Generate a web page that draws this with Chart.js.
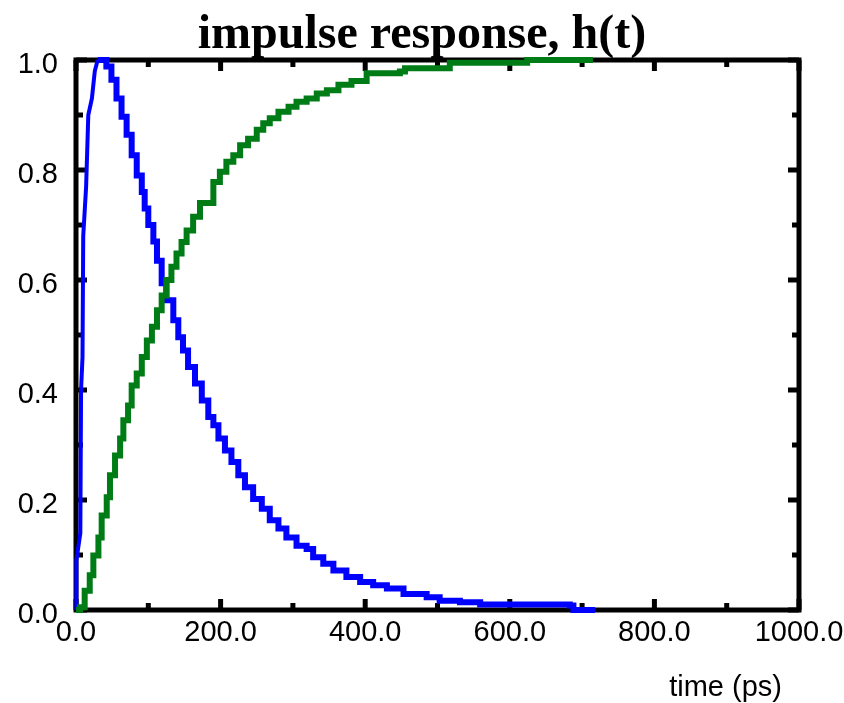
<!DOCTYPE html>
<html>
<head>
<meta charset="utf-8">
<style>
  html, body { margin: 0; padding: 0; background: #fff; }
  #wrap { width: 844px; height: 703px; }
</style>
<script src="https://cdn.jsdelivr.net/npm/chart.js@4.4.0/dist/chart.umd.min.js"></script>
</head>
<body>
<div id="wrap"><canvas id="impulseChart" width="844" height="703"></canvas></div>
<script>
// tick positions
const xTickValues = [0, 200, 400, 600, 800, 1000];
const xMinorValues = [100, 300, 500, 700, 900];
const yTickValues = [0, 0.2, 0.4, 0.6, 0.8, 1.0];
const yMinorValues = [0.1, 0.3, 0.5, 0.7, 0.9];

// h(t), rising edge (ps, normalised)
const riseTime = [0, 0.5, 6, 7, 9, 10, 14, 17, 22, 26, 30];
const riseValue = [0, 0.09, 0.14, 0.40, 0.46, 0.68, 0.77, 0.90, 0.93, 0.98, 1.0];

// h(t), decaying histogram
const decayTime = [30, 35.5, 42, 49, 56, 63, 70, 77, 84, 91, 95, 100, 107, 112, 118.5, 125, 134.6, 141.5, 148, 155,
    164.6, 174, 183, 190, 197, 206, 215, 224.5, 233.7, 245, 257, 268, 280, 291, 305, 319, 328, 342, 356, 374,
    393, 411, 430, 453, 485, 503, 531, 559, 683, 688, 718];
const decayValue = [1.0, 1.0, 0.988, 0.964, 0.93, 0.897, 0.864, 0.827, 0.79, 0.76, 0.73, 0.70, 0.67, 0.635, 0.594, 0.563, 0.527, 0.496, 0.472, 0.442,
    0.412, 0.381, 0.351, 0.336, 0.312, 0.29, 0.269, 0.245, 0.223, 0.202, 0.184, 0.163, 0.148, 0.132, 0.117, 0.111, 0.096, 0.084, 0.072, 0.06,
    0.051, 0.045, 0.039, 0.029, 0.023, 0.017, 0.014, 0.01, 0.008, 0, 0];

// cumulative response
const cumTime = [0, 5.5, 12, 19, 24, 31, 35.5, 42.5, 47, 54, 61, 65.5, 72, 77, 84, 91, 98, 105, 112, 118.5,
    125, 132, 139, 146, 153, 162, 171.5, 190, 199, 208, 217.6, 227, 238, 250, 259, 268, 280, 294, 305, 319,
    333, 347, 363, 381, 402, 448, 455, 517, 624, 715];
const cumValue = [0, 0.005, 0.035, 0.063, 0.099, 0.132, 0.172, 0.205, 0.245, 0.281, 0.312, 0.345, 0.372, 0.408, 0.43, 0.46, 0.49, 0.515, 0.545, 0.572,
    0.6, 0.624, 0.648, 0.669, 0.69, 0.715, 0.74, 0.778, 0.797, 0.815, 0.827, 0.845, 0.857, 0.873, 0.885, 0.894, 0.906, 0.915, 0.924, 0.93,
    0.939, 0.945, 0.955, 0.962, 0.976, 0.979, 0.985, 0.995, 1.0, 1.0];

const BLUE = '#0000ff';
const GREEN = 'rgb(0,124,22)';
const SANS = '"Liberation Sans", Arial, sans-serif';

const toPoints = (ts, vs) => ts.map((t, i) => ({ x: t, y: vs[i] }));

// frame with inward ticks on all four sides (gnuplot look)
const frameTicks = {
    id: 'frameTicks',
    beforeDatasetsDraw(chart) {
        const { ctx, chartArea: a, scales: { x, y } } = chart;
        ctx.save();
        ctx.strokeStyle = '#000';
        ctx.lineWidth = 5;
        ctx.lineCap = 'square';
        ctx.strokeRect(a.left, a.top, a.right - a.left, a.bottom - a.top);
        ctx.lineCap = 'butt';

        const seg = (x1, y1, x2, y2) => {
            ctx.beginPath();
            ctx.moveTo(x1, y1);
            ctx.lineTo(x2, y2);
            ctx.stroke();
        };
        const xMark = (v, len) => {
            const px = x.getPixelForValue(v);
            seg(px, a.bottom, px, a.bottom - len);
            seg(px, a.top, px, a.top + len);
        };
        const yMark = (v, len) => {
            const py = y.getPixelForValue(v);
            seg(a.left, py, a.left + len, py);
            seg(a.right, py, a.right - len, py);
        };
        xTickValues.forEach(v => xMark(v, 11));
        xMinorValues.forEach(v => xMark(v, 7));
        yTickValues.forEach(v => yMark(v, 11));
        yMinorValues.forEach(v => yMark(v, 7));
        ctx.restore();
    },
    afterDraw(chart) {
        const { ctx, chartArea: a } = chart;
        ctx.save();
        ctx.fillStyle = '#000';
        ctx.font = '29px ' + SANS;
        ctx.textAlign = 'right';
        ctx.textBaseline = 'middle';
        ctx.fillText('time (ps)', a.right - 17, 688);
        ctx.restore();
    }
};

const ctx = document.getElementById('impulseChart').getContext('2d');

new Chart(ctx, {
    type: 'line',
    data: {
        datasets: [
            {
                data: toPoints(cumTime, cumValue),
                borderColor: GREEN,
                borderWidth: 6,
                stepped: true,
                pointRadius: 0,
                fill: false,
                clip: false
            },
            {
                data: toPoints(decayTime, decayValue),
                borderColor: BLUE,
                borderWidth: 6,
                stepped: true,
                pointRadius: 0,
                fill: false,
                clip: false
            },
            {
                data: toPoints(riseTime, riseValue),
                borderColor: BLUE,
                borderWidth: 4,
                tension: 0,
                pointRadius: 0,
                fill: false,
                clip: false
            }
        ]
    },
    options: {
        responsive: false,
        animation: false,
        devicePixelRatio: 1,
        layout: {
            padding: { left: 0, right: 0, top: 0, bottom: 53 }
        },
        plugins: {
            legend: { display: false },
            tooltip: { enabled: false },
            title: {
                display: true,
                text: 'impulse response, h(t)',
                color: '#000',
                font: { family: '"Liberation Serif", "Times New Roman", serif', size: 48, weight: 'bold', lineHeight: 1.0 },
                padding: { top: 12, bottom: 0 }
            }
        },
        scales: {
            x: {
                type: 'linear',
                min: 0,
                max: 1000,
                grid: { display: false, drawTicks: false },
                border: { display: false },
                afterBuildTicks: (scale) => { scale.ticks = xTickValues.map(v => ({ value: v })); },
                afterFit: (scale) => {
                    scale.height = 40;
                    scale.paddingLeft = 20;
                    scale.paddingRight = 45;
                },
                ticks: {
                    color: '#000',
                    padding: 6,
                    maxRotation: 0,
                    font: { family: SANS, size: 29 },
                    callback: (v) => Number(v).toFixed(1)
                }
            },
            y: {
                type: 'linear',
                min: 0,
                max: 1,
                grid: { display: false, drawTicks: false },
                border: { display: false },
                afterBuildTicks: (scale) => { scale.ticks = yTickValues.map(v => ({ value: v })); },
                afterFit: (scale) => { scale.width = 76; },
                ticks: {
                    color: '#000',
                    padding: 18,
                    labelOffset: 5,
                    font: { family: SANS, size: 29 },
                    callback: (v) => Number(v).toFixed(1)
                }
            }
        }
    },
    plugins: [frameTicks]
});
</script>
</body>
</html>
